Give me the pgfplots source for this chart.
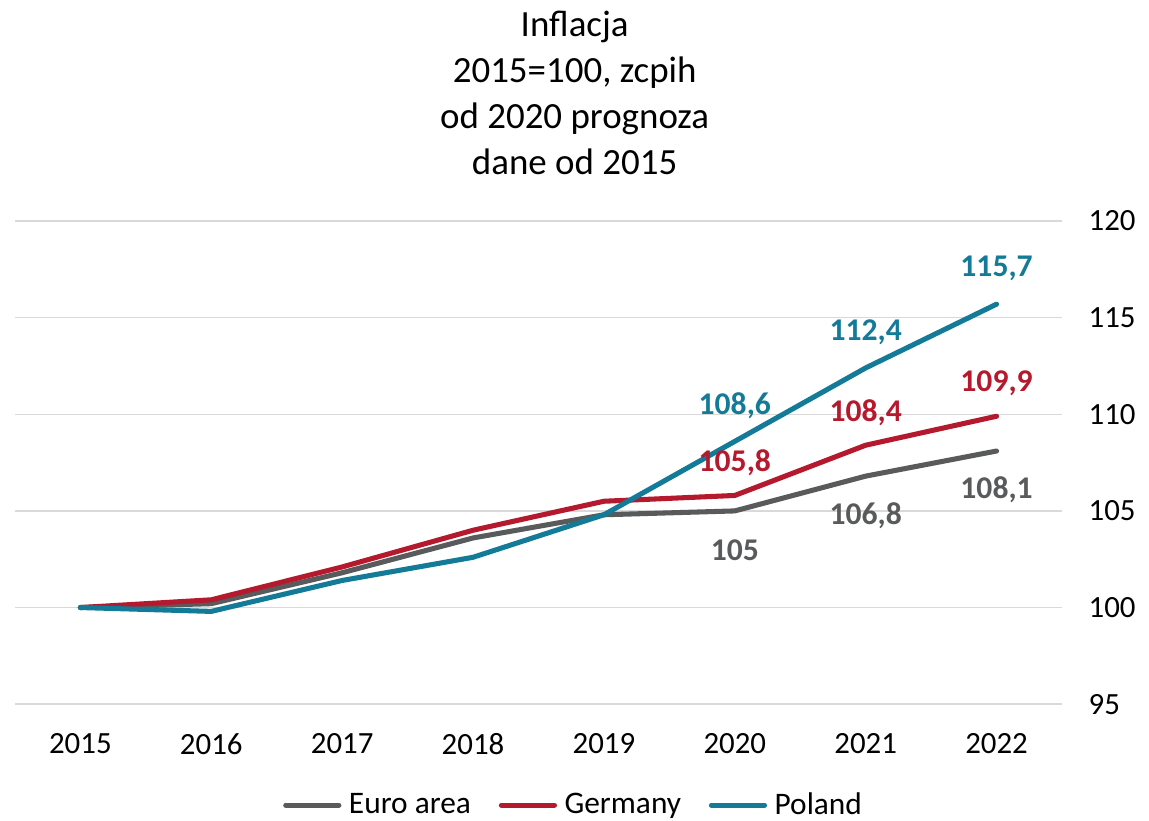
\documentclass[border=0pt]{standalone}
\usepackage{pgfplots}
\pgfplotsset{compat=1.18}
\usepackage{fontspec}
\setmainfont{Carlito}
\definecolor{cEuro}{HTML}{595A5C}
\definecolor{cGer}{HTML}{B5192D}
\definecolor{cPol}{HTML}{137A97}
\definecolor{cGrid}{HTML}{D9D9D9}
\begin{document}
\begin{tikzpicture}
\begin{axis}[
  name=ax,
  scale only axis,
  width=414pt, height=191pt,
  xmin=-0.5, xmax=7.5,
  ymin=95, ymax=120,
  xtick={0,1,2,3,4,5,6,7},
  xticklabels={2015,2016,2017,2018,2019,2020,2021,2022},
  ytick={95,100,105,110,115,120},
  yticklabel pos=right,
  axis line style={draw=none},
  major tick length=0pt,
  ymajorgrids,
  grid style={cGrid, line width=0.6pt},
  tick label style={font=\fontsize{12.2}{14}\selectfont},
  /pgf/number format/assume math mode=true,
  yticklabel style={anchor=west, xshift=7pt},
  xticklabel style={yshift=-8pt},
  legend style={
    at={(0.535,-0.209)}, anchor=center, draw=none, fill=none,
    legend columns=3, font=\fontsize{12.4}{14}\selectfont,
    /tikz/every even column/.append style={column sep=9pt},
    /tikz/every odd column/.append style={column sep=1pt},
  },
  legend image code/.code={\draw[#1, line cap=round] (0pt,0pt) -- (21pt,0pt);},
  every axis plot/.append style={line width=2pt, line join=round, line cap=round},
  clip=false,
]
\addplot[cEuro] coordinates {(0,100) (1,100.2) (2,101.8) (3,103.6) (4,104.8) (5,105.0) (6,106.8) (7,108.1)};
\addlegendentry{Euro area}
\addplot[cGer] coordinates {(0,100) (1,100.4) (2,102.1) (3,104.0) (4,105.5) (5,105.8) (6,108.4) (7,109.9)};
\addlegendentry{Germany}
\addplot[cPol] coordinates {(0,100) (1,99.8) (2,101.4) (3,102.6) (4,104.8) (5,108.6) (6,112.4) (7,115.7)};
\addlegendentry{Poland}
% data labels
\addplot[forget plot, draw=none, nodes near coords, point meta=explicit symbolic,
  every node near coord/.style={anchor=center, yshift=-15.5pt, text=cEuro, font=\fontsize{12.5}{14}\selectfont\bfseries}]
  coordinates {(5,105.0)[105] (6,106.8)[106,8] (7,108.1)[108,1]};
\addplot[forget plot, draw=none, nodes near coords, point meta=explicit symbolic,
  every node near coord/.style={anchor=center, yshift=13pt, text=cGer, font=\fontsize{12.5}{14}\selectfont\bfseries}]
  coordinates {(5,105.8)[105,8] (6,108.4)[108,4] (7,109.9)[109,9]};
\addplot[forget plot, draw=none, nodes near coords, point meta=explicit symbolic,
  every node near coord/.style={anchor=center, yshift=14pt, text=cPol, font=\fontsize{12.5}{14}\selectfont\bfseries}]
  coordinates {(5,108.6)[108,6] (6,112.4)[112,4] (7,115.7)[115,7]};
\end{axis}
\node[anchor=south, inner sep=0pt, align=center, font=\fontsize{14.6}{18.2}\selectfont]
  at ([xshift=221.3pt, yshift=18.2pt]ax.north west)
  {Inflacja\\2015=100, zcpih\\od 2020 prognoza\\dane od 2015};
\pgfresetboundingbox
\path ([xshift=-5.9pt, yshift=-46.2pt]ax.south west) rectangle ([xshift=34.4pt, yshift=87.4pt]ax.north east);
\end{tikzpicture}
\end{document}
